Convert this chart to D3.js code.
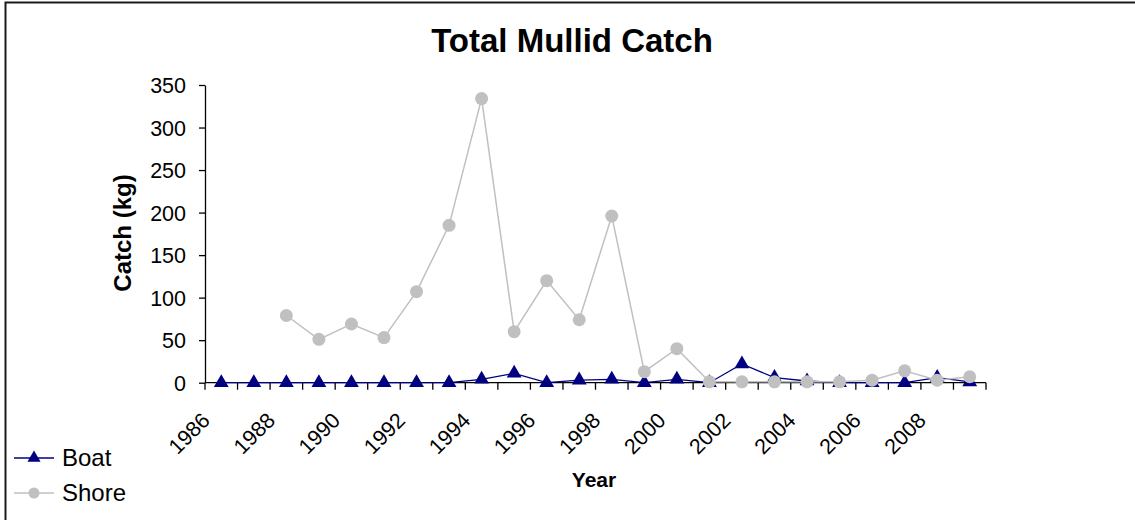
<!DOCTYPE html>
<html><head><meta charset="utf-8">
<script src="https://cdn.jsdelivr.net/npm/d3@7"></script>
<style>
html,body{margin:0;padding:0;background:#fff;}
text{font-family:"Liberation Sans",Arial,sans-serif;fill:#000;}
</style></head>
<body><svg id="c" width="1135" height="520"></svg>
<script>
const years = d3.range(1986, 2010).map(String);
const boat  = [0,0,0,0,0,0,0,0,4,11,0,3,4,0,4,0,22,6,2,0,0,0,6,1];
const shore = [null,null,79,51,69,53,107,185,334,60,120,74,196,13,40,1,1,1,1,1,3,14,3,7];
const yTicks = [0,50,100,150,200,250,300,350];
const xLabels = ["1986","1988","1990","1992","1994","1996","1998","2000","2002","2004","2006","2008"];
const seriesNames = ["Boat","Shore"];

const svg = d3.select("#c");
svg.append("rect").attr("x",5.5).attr("y",2.5).attr("width",1140).attr("height",530)
  .attr("fill","none").attr("stroke","#1a1a1a").attr("stroke-width",2);

const x = d3.scaleBand().domain(years).range([205,986]).padding(0);
const y = d3.scaleLinear().domain([0,350]).range([382.7,85]);
const cx = d => x(d) + x.bandwidth()/2;

// title
svg.append("text").attr("x",572).attr("y",52).attr("text-anchor","middle")
  .style("font-size","33px").style("font-weight","bold").text("Total Mullid Catch");

// y axis
const ya = svg.append("g").attr("transform","translate(205,0)")
  .call(d3.axisLeft(y).tickValues(yTicks).tickSize(6).tickSizeOuter(0).tickPadding(13));
ya.select(".domain").attr("stroke","#000").attr("stroke-width",1.3);
ya.selectAll(".tick line").attr("stroke","#000").attr("stroke-width",1.3);
ya.selectAll(".tick text").style("font-size","21.5px").style("font-family","'Liberation Sans',Arial,sans-serif").attr("fill","#000").attr("dy","0.36em");

svg.append("text").attr("transform","translate(131,233) rotate(-90)").attr("text-anchor","middle")
  .style("font-size","24px").style("font-weight","bold").text("Catch (kg)");

// x axis
const g = svg.append("g");
g.append("line").attr("x1",205).attr("x2",986).attr("y1",y(0)).attr("y2",y(0))
  .attr("stroke","#000").attr("stroke-width",1.3);
const bounds = years.map(d => x(d)).concat([x(years[years.length-1]) + x.bandwidth()]);
g.selectAll(".xt").data(bounds).enter().append("line")
  .attr("x1",d=>d).attr("x2",d=>d).attr("y1",y(0)).attr("y2",y(0)+7)
  .attr("stroke","#000").attr("stroke-width",1.3);
g.selectAll(".xl").data(xLabels).enter().append("text")
  .attr("transform",d=>`translate(${cx(d)-10},${y(0)+39}) rotate(-45)`)
  .attr("text-anchor","end").style("font-size","21.5px").text(d=>d);

svg.append("text").attr("x",594).attr("y",487).attr("text-anchor","middle")
  .style("font-size","21px").style("font-weight","bold").text("Year");

// series
const tri = d3.symbol().type(d3.symbolTriangle).size(95);
const line = d3.line().defined(d=>d.v!==null).x(d=>cx(d.yr)).y(d=>y(d.v));
const boatD = years.map((yr,i)=>({yr, v:boat[i]}));
const shoreD = years.map((yr,i)=>({yr, v:shore[i]}));

svg.append("path").datum(boatD).attr("d",line).attr("fill","none").attr("stroke","#000080").attr("stroke-width",1.3);
svg.selectAll(".bm").data(boatD).enter().append("path")
  .attr("d",tri).attr("transform",d=>`translate(${cx(d.yr)},${y(d.v)})`).attr("fill","#000080");

svg.append("path").datum(shoreD).attr("d",line).attr("fill","none").attr("stroke","#c0c0c0").attr("stroke-width",1.5);
svg.selectAll(".sm").data(shoreD.filter(d=>d.v!==null)).enter().append("circle")
  .attr("cx",d=>cx(d.yr)).attr("cy",d=>y(d.v)).attr("r",6.5).attr("fill","#c0c0c0");

// legend
const lg = svg.append("g");
const ly = [458,493];
lg.append("line").attr("x1",14).attr("x2",54).attr("y1",ly[0]).attr("y2",ly[0]).attr("stroke","#000080").attr("stroke-width",1.3);
lg.append("path").attr("d",d3.symbol().type(d3.symbolTriangle).size(75)).attr("transform",`translate(34,${ly[0]})`).attr("fill","#000080");
lg.append("line").attr("x1",14).attr("x2",54).attr("y1",ly[1]).attr("y2",ly[1]).attr("stroke","#c0c0c0").attr("stroke-width",1.5);
lg.append("circle").attr("cx",34).attr("cy",ly[1]).attr("r",5.5).attr("fill","#c0c0c0");
lg.selectAll(".lt").data(seriesNames).enter().append("text")
  .attr("x",62).attr("y",(d,i)=>ly[i]+7.5).style("font-size","24px").text(d=>d);
</script></body></html>
